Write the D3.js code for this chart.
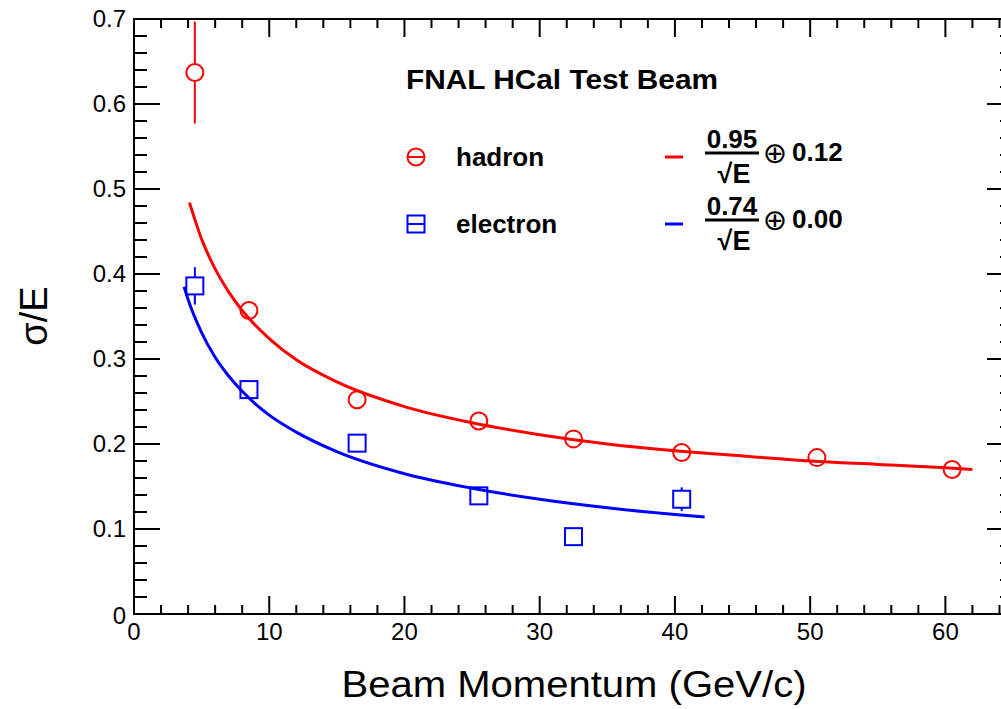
<!DOCTYPE html>
<html>
<head>
<meta charset="utf-8">
<script src="https://cdn.jsdelivr.net/npm/d3@7"></script>
<style>
  body { margin: 0; background: #fff; }
  svg { display: block; font-family: "Liberation Sans", Arial, Helvetica, sans-serif; }
</style>
</head>
<body>
<div id="chart"></div>
<script>
// data points (beam momentum GeV/c, sigma/E)
const hadronX = [4.5, 8.5, 16.5, 25.5, 32.5, 40.5, 50.5, 60.5];
const hadronY = [0.637, 0.357, 0.252, 0.227, 0.206, 0.190, 0.184, 0.170];
const hadronErr = [0.060, 0.004, 0.003, 0.003, 0.003, 0.003, 0.003, 0.003];

const electronX = [4.5, 8.5, 16.5, 25.5, 32.5, 40.5];
const electronY = [0.386, 0.264, 0.201, 0.139, 0.091, 0.135];
const electronErr = [0.022, 0.004, 0.004, 0.004, 0.004, 0.014];

// fit curves
const hadronFitX = [4.1, 5, 6, 7, 8, 10, 12, 15, 20, 25, 30, 35, 40, 45, 50, 55, 60, 62];
const hadronFitY = [0.484, 0.441, 0.406, 0.379, 0.357, 0.324, 0.299, 0.273, 0.244, 0.225, 0.211, 0.200, 0.192, 0.186, 0.180, 0.176, 0.172, 0.170];
const electronFitX = [3.7, 4, 5, 6, 7, 8, 10, 12, 15, 20, 25, 30, 35, 40, 42.2];
const electronFitY = [0.385, 0.370, 0.331, 0.302, 0.280, 0.262, 0.234, 0.214, 0.191, 0.165, 0.148, 0.135, 0.125, 0.117, 0.114];

const xTicks = [0, 10, 20, 30, 40, 50, 60];
const yTicks = [0, 0.1, 0.2, 0.3, 0.4, 0.5, 0.6, 0.7];

const W = 1001, H = 709;
const margin = { top: 19, left: 134 };
const width = 879, height = 595;

const svg = d3.select('#chart')
    .append('svg')
    .attr('width', W)
    .attr('height', H);

const x = d3.scaleLinear().domain([0, 65]).range([margin.left, margin.left + width]);
const y = d3.scaleLinear().domain([0, 0.7]).range([margin.top + height, margin.top]);

const minorX = d3.range(0, 65.01, 2).filter(v => v % 10 !== 0);
const minorY = d3.range(0, 0.7001, 0.02).filter(v => Math.abs(v * 10 - Math.round(v * 10)) > 1e-6);

const ax = svg.append('g').attr('stroke', '#000').attr('stroke-width', 2);

// frame
ax.append('rect')
    .attr('x', x(0)).attr('y', y(0.7))
    .attr('width', x(65) - x(0)).attr('height', y(0) - y(0.7))
    .attr('fill', 'none');

// bottom / top ticks
xTicks.forEach(t => {
    ax.append('line').attr('x1', x(t)).attr('x2', x(t)).attr('y1', y(0)).attr('y2', y(0) - 18);
    ax.append('line').attr('x1', x(t)).attr('x2', x(t)).attr('y1', y(0.7)).attr('y2', y(0.7) + 18);
});
minorX.forEach(t => {
    ax.append('line').attr('x1', x(t)).attr('x2', x(t)).attr('y1', y(0)).attr('y2', y(0) - 9);
    ax.append('line').attr('x1', x(t)).attr('x2', x(t)).attr('y1', y(0.7)).attr('y2', y(0.7) + 9);
});
// left / right ticks
yTicks.forEach(t => {
    ax.append('line').attr('y1', y(t)).attr('y2', y(t)).attr('x1', x(0)).attr('x2', x(0) + 26);
    ax.append('line').attr('y1', y(t)).attr('y2', y(t)).attr('x1', x(65)).attr('x2', x(65) - 26);
});
minorY.forEach(t => {
    ax.append('line').attr('y1', y(t)).attr('y2', y(t)).attr('x1', x(0)).attr('x2', x(0) + 13);
    ax.append('line').attr('y1', y(t)).attr('y2', y(t)).attr('x1', x(65)).attr('x2', x(65) - 13);
});

// tick labels
svg.append('g').selectAll('text')
    .data(xTicks)
    .enter()
    .append('text')
    .attr('x', d => x(d))
    .attr('y', y(0) + 26)
    .attr('text-anchor', 'middle')
    .attr('font-size', 24)
    .text(d => d);

svg.append('g').selectAll('text')
    .data(yTicks)
    .enter()
    .append('text')
    .attr('x', x(0) - 8)
    .attr('y', d => y(d) + (d === 0 ? 10 : 8))
    .attr('text-anchor', 'end')
    .attr('font-size', 24)
    .text(d => d === 0 ? '0' : d.toFixed(1));

// axis titles
svg.append('text')
    .attr('x', 574)
    .attr('y', 697)
    .attr('text-anchor', 'middle')
    .attr('font-size', 36)
    .attr('textLength', 465)
    .attr('lengthAdjust', 'spacingAndGlyphs')
    .text('Beam Momentum (GeV/c)');

svg.append('text')
    .attr('transform', 'translate(47,316) rotate(-90)')
    .attr('text-anchor', 'middle')
    .attr('font-size', 38)
    .text('σ/E');

// fit curves
const line = d3.line().x(d => x(d[0])).y(d => y(d[1])).curve(d3.curveMonotoneX);

svg.append('path')
    .datum(d3.zip(hadronFitX, hadronFitY))
    .attr('fill', 'none')
    .attr('stroke', '#ff0000')
    .attr('stroke-width', 3)
    .attr('d', line);

svg.append('path')
    .datum(d3.zip(electronFitX, electronFitY))
    .attr('fill', 'none')
    .attr('stroke', '#0000ff')
    .attr('stroke-width', 3)
    .attr('d', line);

// markers
const R = 8.5;
function drawPoints(xs, ys, errs, color, shape) {
    const g = svg.append('g').attr('stroke', color).attr('stroke-width', 2).attr('fill', 'none');
    xs.forEach((xv, i) => {
        const cx = x(xv), cy = y(ys[i]);
        const top = y(ys[i] + errs[i]), bot = y(ys[i] - errs[i]);
        if (top < cy - R) g.append('line').attr('x1', cx).attr('x2', cx).attr('y1', top).attr('y2', cy - R);
        if (bot > cy + R) g.append('line').attr('x1', cx).attr('x2', cx).attr('y1', cy + R).attr('y2', bot);
        if (shape === 'circle') {
            g.append('circle').attr('cx', cx).attr('cy', cy).attr('r', R);
        } else {
            g.append('rect').attr('x', cx - R).attr('y', cy - R).attr('width', 2 * R).attr('height', 2 * R);
        }
    });
}
drawPoints(hadronX, hadronY, hadronErr, '#ff0000', 'circle');
drawPoints(electronX, electronY, electronErr, '#0000ff', 'square');

// title + legend
svg.append('text')
    .attr('x', 406)
    .attr('y', 89)
    .attr('font-size', 27)
    .attr('font-weight', 'bold')
    .attr('textLength', 312)
    .attr('lengthAdjust', 'spacingAndGlyphs')
    .text('FNAL HCal Test Beam');

const legendRows = [
    { label: 'hadron', color: '#ff0000', shape: 'circle', y: 157, num: '0.95', add: '0.12' },
    { label: 'electron', color: '#0000ff', shape: 'square', y: 224, num: '0.74', add: '0.00' }
];

legendRows.forEach((r, i) => {
    const g = svg.append('g');
    const mk = g.append('g').attr('stroke', r.color).attr('stroke-width', 2).attr('fill', 'none');
    if (r.shape === 'circle') {
        mk.append('circle').attr('cx', 416).attr('cy', r.y).attr('r', R);
    } else {
        mk.append('rect').attr('x', 416 - R).attr('y', r.y - R).attr('width', 2 * R).attr('height', 2 * R);
    }
    mk.append('line').attr('x1', 416 - R).attr('x2', 416 + R).attr('y1', r.y).attr('y2', r.y);

    g.append('text')
        .attr('x', 456).attr('y', r.y + 9)
        .attr('font-size', 26).attr('font-weight', 'bold')
        .text(r.label);

    g.append('line')
        .attr('x1', 665).attr('x2', 683)
        .attr('y1', r.y).attr('y2', r.y)
        .attr('stroke', r.color).attr('stroke-width', 3);

    const fy = i === 0 ? 153 : 220; // fraction bar
    g.append('text')
        .attr('x', 732).attr('y', fy - 5)
        .attr('text-anchor', 'middle')
        .attr('font-size', 26).attr('font-weight', 'bold')
        .text(r.num);
    g.append('line')
        .attr('x1', 705).attr('x2', 759)
        .attr('y1', fy).attr('y2', fy)
        .attr('stroke', '#000').attr('stroke-width', 3);
    g.append('text')
        .attr('x', 734).attr('y', fy + 30)
        .attr('text-anchor', 'middle')
        .attr('font-size', 27).attr('font-weight', 'bold')
        .text('√E');
    g.append('text')
        .attr('x', 775).attr('y', fy + 10)
        .attr('text-anchor', 'middle')
        .attr('font-family', 'DejaVu Sans')
        .attr('font-size', 29)
        .text('⊕');
    g.append('text')
        .attr('x', 792).attr('y', fy + 8)
        .attr('font-size', 26).attr('font-weight', 'bold')
        .text(r.add);
});
</script>
</body>
</html>
